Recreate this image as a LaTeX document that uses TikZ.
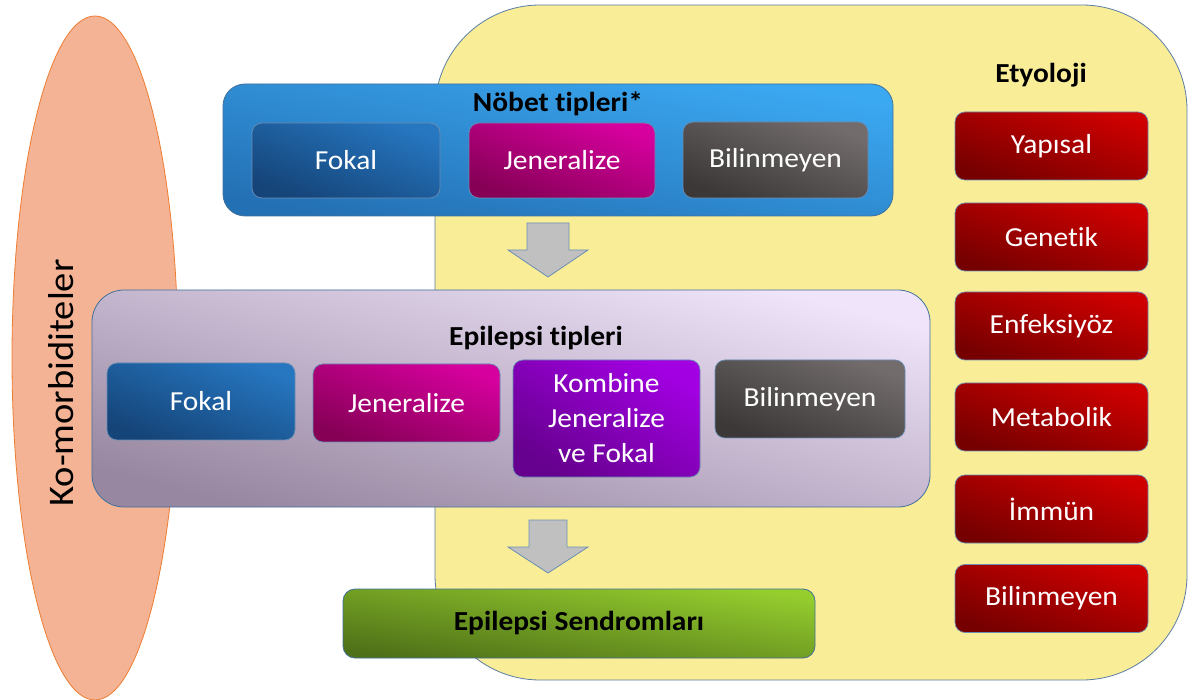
\documentclass[tikz,border=0pt]{standalone}
\usepackage{fontspec}
\setmainfont[FakeStretch=1.07,Ligatures=NoCommon]{Carlito}
\usetikzlibrary{shapes.geometric}
\definecolor{yelfill}{HTML}{FAED97}
\definecolor{yelline}{HTML}{5B7EA6}
\definecolor{salmon}{HTML}{F4B395}
\definecolor{orangeline}{HTML}{ED7D31}
\definecolor{blueA}{HTML}{3BA9F2}
\definecolor{blueB}{HTML}{2470B4}
\definecolor{dblueA}{HTML}{2676C0}
\definecolor{dblueB}{HTML}{154478}
\definecolor{magA}{HTML}{D6009E}
\definecolor{magB}{HTML}{860056}
\definecolor{greyA}{HTML}{726C6C}
\definecolor{greyB}{HTML}{3C3838}
\definecolor{purA}{HTML}{EFE4FA}
\definecolor{purB}{HTML}{9787A0}
\definecolor{vioA}{HTML}{A200E2}
\definecolor{vioB}{HTML}{66008E}
\definecolor{grnA}{HTML}{96CE2E}
\definecolor{grnB}{HTML}{4E7018}
\definecolor{redA}{HTML}{CE0000}
\definecolor{redB}{HTML}{760000}
\definecolor{outline}{HTML}{41719C}
\definecolor{inline}{HTML}{6A8DB5}
\definecolor{arrowfill}{HTML}{C0C0C0}
\newcommand\myfs{\fontsize{27.5}{35}\selectfont}
\begin{document}
\begin{tikzpicture}[x=1pt,y=1pt,
  gradbox/.style n args={3}{draw=inline, line width=0.7pt, rounded corners=10,
    top color=#1, bottom color=#2, shading angle=#3,
    text=white, font=\myfs, align=center, inner sep=0pt},
  bigbox/.style n args={3}{draw=outline, line width=0.8pt,
    top color=#1, bottom color=#2, shading angle=#3, inner sep=0pt},
  titletext/.style={font=\myfs\bfseries, text=black, inner sep=0pt},
  blockarrow/.style={draw=inline, line width=0.8pt, fill=arrowfill, line join=miter}]
\useasboundingbox (0,0) rectangle (1189,-700);
\fill[white] (0,0) rectangle (1189,-700);
% Ko-morbiditeler ellipse
\begin{scope}
\clip (0,0) rectangle (1189,-700);
\node[ellipse, draw=orangeline, line width=0.8pt, fill=salmon,
  minimum width=166, minimum height=684, inner sep=0pt] (komor) at (95,-358) {};
\end{scope}
\node[rotate=90, font=\fontsize{36}{40}\selectfont, inner sep=0pt] (komortxt) at (61,-383) {Ko-morbiditeler};
% Etyoloji background
\node[draw=yelline, line width=0.8pt, fill=yelfill, rounded corners=105,
  minimum width=752, minimum height=675, inner sep=0pt] (etbg) at (811,-342.5) {};
% Nobet tipleri
\node[bigbox={blueA}{blueB}{-11}, rounded corners=22, minimum width=670, minimum height=132] (nobet) at (558,-150) {};
\node[titletext] (nobett) at (558,-104) {Nöbet tipleri*};
\node[gradbox={dblueA}{dblueB}{-22}, minimum width=188, minimum height=75] (nf) at (346,-160.5) {Fokal};
\node[gradbox={magA}{magB}{-22}, minimum width=186, minimum height=75] (nj) at (562,-160.5) {Jeneralize};
\node[gradbox={greyA}{greyB}{-22}, minimum width=185, minimum height=76] (nb) at (775.5,-160) {Bilinmeyen};
% arrow 1
\draw[blockarrow] (527,-223) -- (569,-223) -- (569,-250) -- (588,-250) -- (548,-277) -- (508,-250) -- (527,-250) -- cycle;
% Epilepsi tipleri
\node[bigbox={purA}{purB}{-14.5}, rounded corners=32, minimum width=838, minimum height=217] (epil) at (511,-398.5) {};
\node[titletext] (epilt) at (536,-338) {Epilepsi tipleri};
\node[gradbox={dblueA}{dblueB}{-22}, minimum width=188, minimum height=77] (ef) at (201,-401.5) {Fokal};
\node[gradbox={magA}{magB}{-22}, minimum width=187, minimum height=78] (ej) at (406.5,-403) {Jeneralize};
\node[gradbox={vioA}{vioB}{-32}, minimum width=187, minimum height=117] (ek) at (606.5,-418.5) {Kombine\\Jeneralize\\ve Fokal};
\node[gradbox={greyA}{greyB}{-22}, minimum width=190, minimum height=78] (eb) at (810,-399) {Bilinmeyen};
% arrow 2
\draw[blockarrow] (529,-520) -- (567,-520) -- (567,-547) -- (588,-547) -- (548,-573) -- (508,-547) -- (529,-547) -- cycle;
% Epilepsi Sendromlari
\node[bigbox={grnA}{grnB}{-8.3}, rounded corners=12, minimum width=472, minimum height=69,
  font=\myfs\bfseries, text=black] (send) at (579,-623.5) {Epilepsi Sendromları};
% Etyoloji
\node[titletext] (ety) at (1041,-75) {Etyoloji};
\node[gradbox={redA}{redB}{-19.4}, minimum width=193, minimum height=68] (r1) at (1051.5,-146) {Yapısal};
\node[gradbox={redA}{redB}{-19.4}, minimum width=193, minimum height=68] (r2) at (1051.5,-237) {Genetik};
\node[gradbox={redA}{redB}{-19.4}, minimum width=193, minimum height=68] (r3) at (1051.5,-326) {Enfeksiyöz};
\node[gradbox={redA}{redB}{-19.4}, minimum width=193, minimum height=68] (r4) at (1051.5,-417) {Metabolik};
\node[gradbox={redA}{redB}{-19.4}, minimum width=193, minimum height=68] (r5) at (1051.5,-509) {İmmün};
\node[gradbox={redA}{redB}{-19.4}, minimum width=193, minimum height=68] (r6) at (1051.5,-598.5) {Bilinmeyen};
\end{tikzpicture}
\end{document}
